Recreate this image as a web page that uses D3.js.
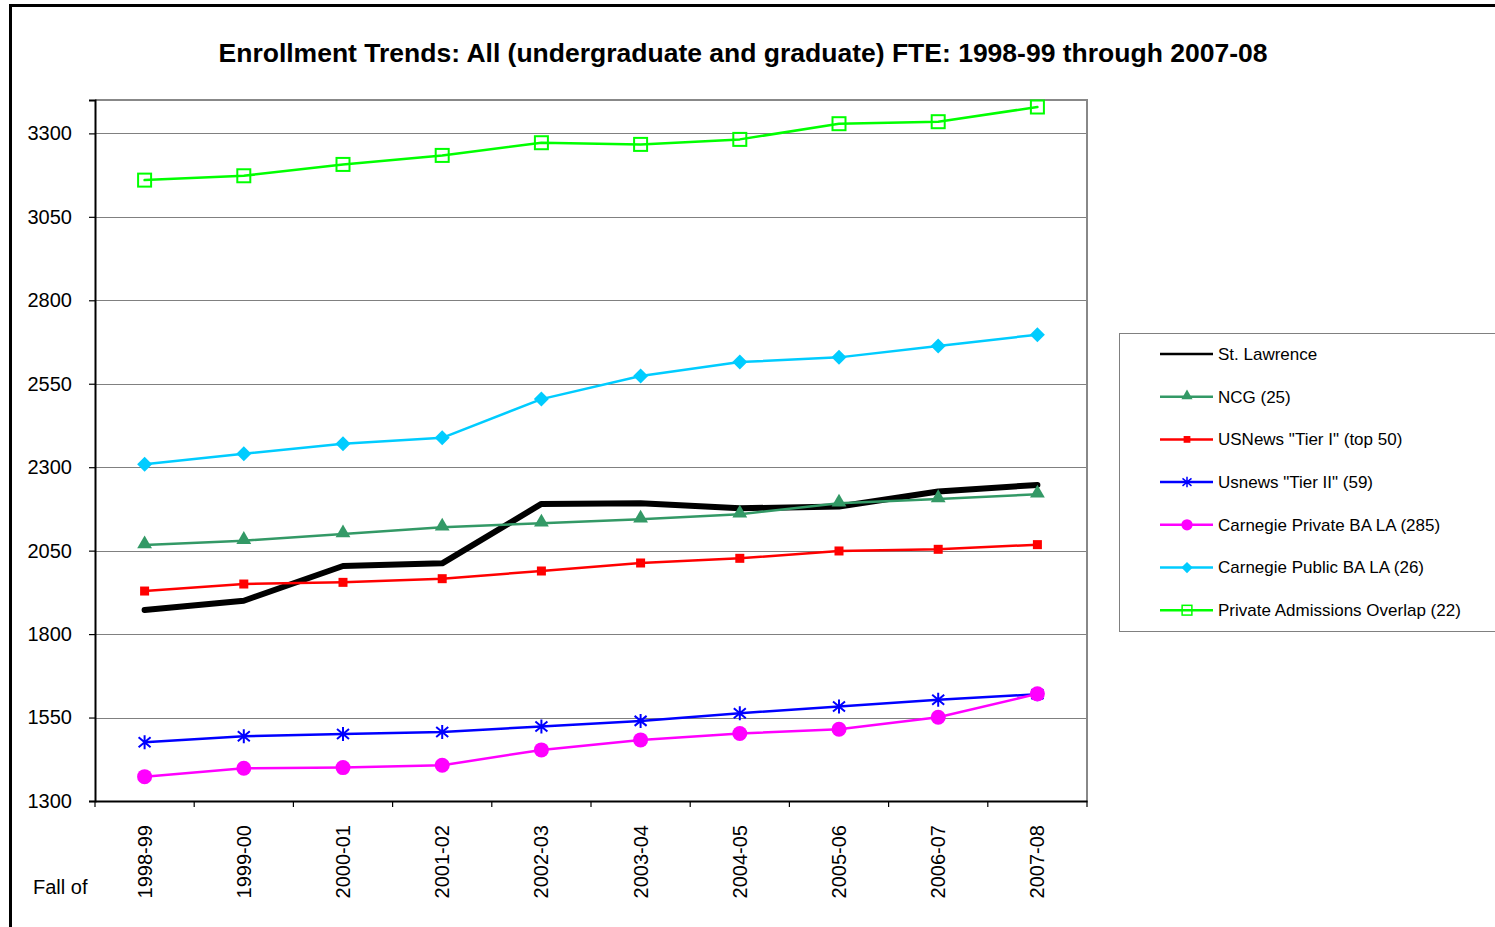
<!DOCTYPE html>
<html><head><meta charset="utf-8">
<script src="https://cdn.jsdelivr.net/npm/d3@7"></script>
<style>
html,body{margin:0;padding:0;background:#fff;}
svg{display:block;font-family:"Liberation Sans",Arial,sans-serif;}
</style></head>
<body>
<svg id="chart" width="1495" height="927"></svg>
<script>
const categories = ["1998-99","1999-00","2000-01","2001-02","2002-03","2003-04","2004-05","2005-06","2006-07","2007-08"];
const stLawrence   = [1872,1900,2004,2012,2190,2192,2177,2182,2227,2247];
const ncg          = [2067,2080,2100,2120,2132,2144,2159,2192,2205,2219];
const usnewsTier1  = [1929,1950,1955,1966,1989,2013,2027,2049,2054,2068];
const usnewsTier2  = [1476,1494,1501,1507,1523,1540,1563,1583,1603,1620];
const carnPrivate  = [1373,1398,1400,1407,1453,1483,1502,1515,1551,1621];
const carnPublic   = [2309,2340,2370,2388,2504,2573,2615,2629,2663,2697];
const privOverlap  = [3160,3173,3207,3234,3272,3267,3282,3329,3335,3379];
const seriesNames  = ["St. Lawrence","NCG (25)","USNews \"Tier I\" (top 50)","Usnews \"Tier II\" (59)","Carnegie Private BA LA (285)","Carnegie Public BA LA (26)","Private Admissions Overlap (22)"];
const yTicks = [1300,1550,1800,2050,2300,2550,2800,3050,3300];
const titleText = "Enrollment Trends: All (undergraduate and graduate) FTE: 1998-99 through 2007-08";
const xAxisTitle = "Fall of";

const series = [
  {name:seriesNames[0], values:stLawrence,  color:"#000000", width:6,   marker:"none"},
  {name:seriesNames[1], values:ncg,         color:"#339966", width:2.5, marker:"triangle"},
  {name:seriesNames[2], values:usnewsTier1, color:"#FF0000", width:2.5, marker:"square"},
  {name:seriesNames[3], values:usnewsTier2, color:"#0000FF", width:2.5, marker:"star"},
  {name:seriesNames[4], values:carnPrivate, color:"#FF00FF", width:2.5, marker:"circle"},
  {name:seriesNames[5], values:carnPublic,  color:"#00CCFF", width:2.5, marker:"diamond"},
  {name:seriesNames[6], values:privOverlap, color:"#00FF00", width:2.5, marker:"opensquare"}
];

const svg = d3.select("#chart");
const L = 95, R = 1087, T = 100, B = 801;

// outer frame
svg.append("rect").attr("x",10.5).attr("y",5.5).attr("width",1500).attr("height",960)
  .attr("fill","none").attr("stroke","#000").attr("stroke-width",3);

svg.append("text").attr("x",743).attr("y",62).attr("text-anchor","middle")
  .attr("font-weight","bold").attr("font-size",26.5).text(titleText);

const x = d3.scaleBand().domain(categories).range([L,R]).padding(0);
const y = d3.scaleLinear().domain([1300,3400]).range([B,T]);

// gridlines
svg.append("g").selectAll("line").data(yTicks.filter(d=>d>1300)).join("line")
  .attr("x1",L).attr("x2",R).attr("y1",d=>Math.round(y(d))+0.5).attr("y2",d=>Math.round(y(d))+0.5)
  .attr("stroke","#808080").attr("stroke-width",1);

// plot border top/right
svg.append("path").attr("d",`M${L},${T}H${R}V${B}`).attr("fill","none")
  .attr("stroke","#888").attr("stroke-width",2);

// y axis
const yAxis = svg.append("g").attr("transform",`translate(${L},0)`)
  .call(d3.axisLeft(y).tickValues(yTicks).tickSize(6).tickPadding(17).tickFormat(d3.format("d")));
yAxis.select(".domain").attr("stroke","#000").attr("stroke-width",2);
yAxis.selectAll(".tick line").attr("stroke","#000").attr("stroke-width",1.2);
yAxis.selectAll("text").attr("font-size",20).attr("font-family","Liberation Sans, Arial, sans-serif").attr("fill","#000");

// x axis
const xAxis = svg.append("g").attr("transform",`translate(0,${B})`)
  .call(d3.axisBottom(x).tickSize(0).tickPadding(0));
xAxis.select(".domain").attr("stroke","#000").attr("stroke-width",2);
xAxis.selectAll(".tick text").attr("font-size",20).attr("font-family","Liberation Sans, Arial, sans-serif").attr("fill","#000")
  .attr("transform","translate(0,24) rotate(-90)").attr("text-anchor","end").attr("dy","0.35em").attr("y",0).attr("x",0);
// boundary ticks
const bounds = categories.map(c=>x(c)).concat([R]);
svg.append("g").selectAll("line").data(bounds).join("line")
  .attr("x1",d=>d).attr("x2",d=>d).attr("y1",B).attr("y2",B+6)
  .attr("stroke","#000").attr("stroke-width",1.2);

svg.append("text").attr("x",33).attr("y",894).attr("font-size",20).text(xAxisTitle);

const cx = c => x(c) + x.bandwidth()/2;

function drawMarker(g, type, color){
  if(type==="none") return;
  if(type==="triangle") g.append("path").attr("d",d3.symbol(d3.symbolTriangle,95)()).attr("fill",color).attr("transform","translate(0,-1)");
  else if(type==="square") g.append("rect").attr("x",-4.5).attr("y",-4.5).attr("width",9).attr("height",9).attr("fill",color);
  else if(type==="opensquare") g.append("rect").attr("x",-6.5).attr("y",-6.5).attr("width",13).attr("height",13).attr("fill","none").attr("stroke",color).attr("stroke-width",2);
  else if(type==="circle") g.append("circle").attr("r",7.5).attr("fill",color);
  else if(type==="diamond") g.append("path").attr("d","M0,-7.5L7.5,0L0,7.5L-7.5,0Z").attr("fill",color);
  else if(type==="star") g.append("path").attr("d","M0,-7V7M-6,-5L6,5M-6,5L6,-5").attr("stroke",color).attr("stroke-width",2).attr("fill","none");
}

const line = d3.line().x((d,i)=>cx(categories[i])).y(d=>y(d));
series.forEach(s=>{
  const g = svg.append("g");
  g.append("path").attr("d",line(s.values)).attr("fill","none").attr("stroke",s.color)
    .attr("stroke-width",s.width).attr("stroke-linejoin","round").attr("stroke-linecap","round");
  s.values.forEach((v,i)=>{
    const m = g.append("g").attr("transform",`translate(${cx(categories[i])},${y(v)})`);
    drawMarker(m,s.marker,s.color);
  });
});

// legend
const lg = svg.append("g");
lg.append("rect").attr("x",1119.5).attr("y",333.5).attr("width",400).attr("height",298)
  .attr("fill","#fff").attr("stroke","#808080").attr("stroke-width",1);
series.forEach((s,i)=>{
  const yy = 354 + i*42.7;
  const row = lg.append("g").attr("transform",`translate(0,${yy})`);
  row.append("line").attr("x1",1160).attr("x2",1213).attr("y1",0).attr("y2",0)
    .attr("stroke",s.color).attr("stroke-width",2.5);
  const m = row.append("g").attr("transform","translate(1187,0) scale(0.75)");
  drawMarker(m,s.marker,s.color);
  row.append("text").attr("x",1218).attr("y",0).attr("dy","0.35em").attr("font-size",17).text(s.name);
});
</script>
</body></html>
